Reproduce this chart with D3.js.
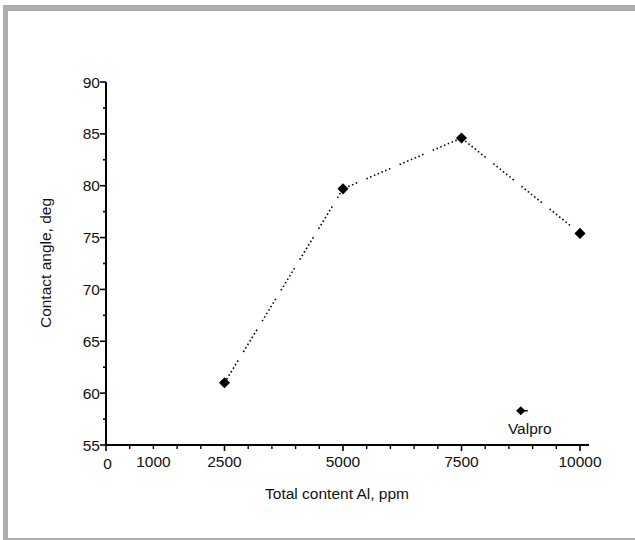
<!DOCTYPE html>
<html><head><meta charset="utf-8">
<script src="https://cdn.jsdelivr.net/npm/d3@7"></script>
<style>body{margin:0;background:#fff}svg{display:block;font-family:"Liberation Sans",Arial,sans-serif}</style>
</head><body><div id="c"></div>
<script>
const contentAl = [2500, 5000, 7500, 10000];
const contactAngle = [61.0, 79.7, 84.6, 75.4];
const valproX = [8750];
const valproY = [58.3];
const valproLabel = "Valpro";
const xTickLabels = [0, 1000, 2500, 5000, 7500, 10000];
const xMajorTicks = [0, 2500, 5000, 7500, 10000];
const yTickLabels = [55, 60, 65, 70, 75, 80, 85, 90];

const W = 635, H = 540;
const svg = d3.select("#c").append("svg").attr("width", W).attr("height", H);

// frame
svg.append("rect").attr("x", 3).attr("y", 5).attr("width", W - 3).attr("height", 6).attr("fill", "#adadad");
svg.append("rect").attr("x", 3).attr("y", 5).attr("width", 5).attr("height", H - 5).attr("fill", "#adadad");
svg.append("rect").attr("x", 3).attr("y", 538).attr("width", W - 3).attr("height", 2).attr("fill", "#adadad");

const x = d3.scaleLinear().domain([0, 10000]).range([106, 580]);
const y = d3.scaleLinear().domain([55, 90]).range([445, 82]);

const FS = 15.5;
const g = svg.append("g");
// x axis
g.append("line").attr("x1", x(0)).attr("x2", 589).attr("y1", y(55)).attr("y2", y(55)).attr("stroke", "#000").attr("stroke-width", 2);
const xMinor = d3.range(0, 10001, 500);
g.selectAll(".xt").data(xMinor).join("line")
  .attr("x1", d => x(d)).attr("x2", d => x(d))
  .attr("y1", y(55)).attr("y2", d => y(55) + (xMajorTicks.includes(d) ? 6 : 4))
  .attr("stroke", "#000").attr("stroke-width", d => xMajorTicks.includes(d) ? 1.6 : 1.4);
g.selectAll(".xl").data(xTickLabels).join("text")
  .attr("x", d => x(d) + (d === 0 ? 1.5 : 0)).attr("y", d => d === 0 ? 469 : 467)
  .attr("text-anchor", "middle").attr("font-size", FS).attr("fill", "#111").text(d => d);

// y axis
g.append("line").attr("x1", x(0)).attr("x2", x(0)).attr("y1", y(90)).attr("y2", y(55) + 1).attr("stroke", "#000").attr("stroke-width", 2);
const yMinor = d3.range(55, 90.01, 2.5);
g.selectAll(".yt").data(yMinor).join("line")
  .attr("x1", x(0)).attr("x2", d => x(0) - (d % 5 === 0 ? 6 : 3))
  .attr("y1", d => y(d)).attr("y2", d => y(d))
  .attr("stroke", "#000").attr("stroke-width", 1.6);
g.selectAll(".yl").data(yTickLabels).join("text")
  .attr("x", 100).attr("y", d => y(d) + 5.5)
  .attr("text-anchor", "end").attr("font-size", FS).attr("fill", "#111").text(d => d);

// axis titles
svg.append("text").attr("x", 337).attr("y", 499).attr("text-anchor", "middle").attr("font-size", FS).attr("fill", "#111").text("Total content Al, ppm");
svg.append("text").attr("transform", "translate(51,263) rotate(-90)").attr("text-anchor", "middle").attr("font-size", FS).attr("fill", "#111").text("Contact angle, deg");

// line
const pts = contentAl.map((d, i) => [d, contactAngle[i]]);
const line = d3.line().x(d => x(d[0])).y(d => y(d[1]));
svg.append("path").attr("d", line(pts)).attr("fill", "none").attr("stroke", "#000")
  .attr("stroke-width", 1.6).attr("stroke-dasharray", "1.5,2.6,1.5,2.6,1.5,2.6,1.5,2.6,1.5,2.6,1.5,2.6,1.5,10");

svg.selectAll(".pt").data(pts).join("path")
  .attr("transform", d => `translate(${x(d[0])},${y(d[1])}) rotate(45)`)
  .attr("d", d3.symbol().type(d3.symbolSquare).size(62)).attr("fill", "#000");

// Valpro
svg.append("line").attr("x1", x(valproX[0])).attr("x2", x(valproX[0]) + 7)
  .attr("y1", y(valproY[0])).attr("y2", y(valproY[0])).attr("stroke", "#000").attr("stroke-width", 1.5);
svg.selectAll(".vp").data(valproX).join("path")
  .attr("transform", (d, i) => `translate(${x(d)},${y(valproY[i])}) rotate(45)`)
  .attr("d", d3.symbol().type(d3.symbolSquare).size(42)).attr("fill", "#000");
svg.append("text").attr("x", x(valproX[0]) + 9).attr("y", 434).attr("text-anchor", "middle").attr("font-size", FS).attr("fill", "#111").text(valproLabel);
</script></body></html>
